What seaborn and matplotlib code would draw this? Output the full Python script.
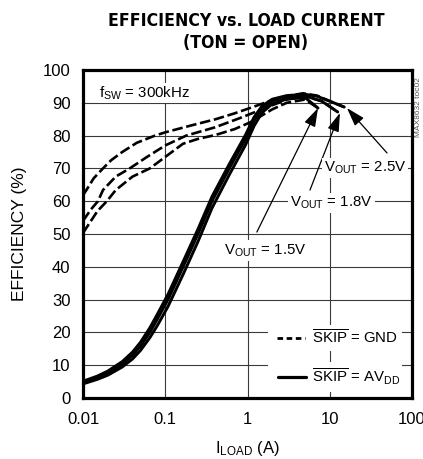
import numpy as np
import pandas as pd
import matplotlib
matplotlib.use("Agg")
import matplotlib.pyplot as plt
import seaborn as sns
from matplotlib import font_manager as fm
from matplotlib.patches import Rectangle
from matplotlib.lines import Line2D

# ---------------- data ----------------
# SKIP = GND (dashed)
gnd25_i = [0.01, 0.011, 0.0135, 0.0175, 0.022, 0.03, 0.045, 0.075, 0.1, 0.2, 0.41, 0.7, 1.07, 2.0, 3.0, 4.7, 7.0, 10.0, 15.0]
gnd25_e = [61.8, 63.4, 67.0, 70.0, 72.5, 75.0, 77.8, 80.0, 81.0, 83.0, 85.0, 86.8, 88.4, 90.8, 92.0, 92.9, 92.2, 90.5, 88.7]
gnd18_i = [0.01, 0.0125, 0.0152, 0.0175, 0.025, 0.037, 0.06, 0.1, 0.18, 0.4, 0.8, 1.5, 3.0, 5.0, 8.0, 12.5]
gnd18_e = [54.0, 57.5, 60.0, 63.4, 67.5, 70.0, 73.5, 77.0, 80.0, 82.5, 85.3, 88.0, 91.0, 92.0, 90.5, 87.2]
gnd15_i = [0.01, 0.0125, 0.015, 0.0195, 0.025, 0.04, 0.065, 0.1, 0.164, 0.25, 0.41, 0.7, 1.07, 2.0, 3.0, 5.0, 7.2]
gnd15_e = [50.3, 54.0, 57.0, 60.0, 63.4, 67.5, 70.0, 73.5, 77.5, 79.0, 80.2, 82.0, 84.0, 88.0, 90.0, 91.0, 88.4]
# SKIP = AVDD (solid)
pwm25_i = [0.01, 0.015, 0.02, 0.03, 0.04, 0.05, 0.065, 0.08, 0.108, 0.165, 0.25, 0.37, 0.6, 0.95, 1.2, 1.5, 2.0, 3.0, 5.0, 7.0, 10.0, 15.0]
pwm25_e = [5.1, 6.7, 8.2, 11.1, 14.0, 17.0, 21.4, 25.5, 31.6, 41.6, 51.5, 61.4, 71.3, 80.3, 85.6, 89.0, 91.1, 92.2, 92.6, 92.0, 90.5, 88.7]
pwm18_i = [0.01, 0.015, 0.02, 0.03, 0.04, 0.05, 0.065, 0.08, 0.108, 0.165, 0.25, 0.37, 0.6, 0.95, 1.2, 1.5, 2.0, 3.0, 5.0, 8.0, 12.5]
pwm18_e = [4.7, 6.2, 7.6, 10.3, 13.0, 15.8, 20.0, 24.0, 30.0, 40.0, 50.0, 60.0, 70.0, 79.0, 84.5, 88.2, 90.5, 91.8, 92.1, 90.5, 87.2]
pwm15_i = [0.01, 0.015, 0.02, 0.03, 0.04, 0.05, 0.065, 0.08, 0.108, 0.165, 0.25, 0.37, 0.6, 0.95, 1.2, 1.5, 2.0, 3.0, 5.0, 7.2]
pwm15_e = [4.3, 5.7, 6.95, 9.45, 11.9, 14.5, 18.4, 22.05, 27.9, 37.7, 47.7, 57.9, 68.05, 77.25, 82.9, 87.0, 89.65, 91.15, 91.6, 88.4]

x_ticks = [0.01, 0.1, 1, 10, 100]
x_ticklabels = ["0.01", "0.1", "1", "10", "100"]
y_ticks = list(range(0, 101, 10))

title = "EFFICIENCY vs. LOAD CURRENT\n(TON = OPEN)"

# ---------------- fonts ----------------
names = {f.name for f in fm.fontManager.ttflist}
narrow = "Liberation Sans Narrow" if "Liberation Sans Narrow" in names else "Liberation Sans"

sns.set_theme(style="white")
plt.rcParams["font.family"] = [narrow, "DejaVu Sans"]
plt.rcParams["text.color"] = "black"
plt.rcParams["axes.labelcolor"] = "black"
plt.rcParams["mathtext.fontset"] = "custom"
plt.rcParams["mathtext.rm"] = narrow
plt.rcParams["mathtext.it"] = narrow
plt.rcParams["mathtext.bf"] = narrow + ":bold"

fig = plt.figure(figsize=(4.23, 4.59), dpi=100)
ax = fig.add_axes([83 / 423, 1 - 398 / 459, 329 / 423, 328 / 459])

series = [
    (gnd25_i, gnd25_e, "gnd"), (gnd18_i, gnd18_e, "gnd"), (gnd15_i, gnd15_e, "gnd"),
    (pwm25_i, pwm25_e, "pwm"), (pwm18_i, pwm18_e, "pwm"), (pwm15_i, pwm15_e, "pwm"),
]
for xi, yi, kind in series:
    df = pd.DataFrame({"I": xi, "E": yi})
    if kind == "gnd":
        sns.lineplot(data=df, x="I", y="E", ax=ax, color="black", lw=1.9,
                     sort=False, estimator=None, linestyle=(0, (4.0, 1.4)), zorder=3)
    else:
        sns.lineplot(data=df, x="I", y="E", ax=ax, color="black", lw=2.1,
                     sort=False, estimator=None, zorder=3)

ax.set_xscale("log")
ax.set_xlim(0.01, 100)
ax.set_ylim(0, 100)
ax.set_xticks(x_ticks)
ax.set_xticklabels(x_ticklabels)
ax.set_yticks(y_ticks)
ax.minorticks_off()
ax.tick_params(axis="both", length=0, labelsize=12, colors="black")
ax.tick_params(axis="y", pad=9)
ax.tick_params(axis="x", pad=10)
ax.grid(True, color="#3a3a3a", lw=0.8, zorder=1)
for s in ax.spines.values():
    s.set_linewidth(2.3)
    s.set_color("black")

ax.set_xlabel(r"I$_{\mathrm{LOAD}}$ (A)", fontsize=12, labelpad=9)
ax.set_ylabel("EFFICIENCY (%)", fontsize=12.5, labelpad=11)
fig.text(246 / 423, 1 - 32 / 459, title, ha="center", va="center",
         fontsize=12.6, fontweight="bold", linespacing=1.3,
         family="DejaVu Sans", fontstretch="condensed")

# fSW label
ax.text(0.0158, 93.0, r"f$_{\mathrm{SW}}$ = 300kHz", fontsize=10.8, va="center", ha="left",
        bbox=dict(fc="white", ec="none", pad=1.0), zorder=4)

# VOUT annotations
box = dict(fc="white", ec="none", pad=1.5)
ap = dict(arrowstyle="-|>,head_length=0.95,head_width=0.3", color="black", lw=0.9,
          shrinkA=0, shrinkB=0)
ax.annotate("", xy=(16.2, 88.4), xytext=(49.7, 74.7), arrowprops=ap, zorder=5)
ax.annotate("", xy=(13.3, 86.9), xytext=(5.75, 63.4), arrowprops=ap, zorder=5)
ax.annotate("", xy=(7.2, 88.4), xytext=(1.30, 50.6), arrowprops=ap, zorder=5)
ax.text(26.8, 70.1, r"V$_{\mathrm{OUT}}$ = 2.5V", fontsize=10.8, ha="center", va="center", bbox=box, zorder=6)
ax.text(10.4, 59.5, r"V$_{\mathrm{OUT}}$ = 1.8V", fontsize=10.8, ha="center", va="center", bbox=box, zorder=6)
ax.text(1.63, 45.0, r"V$_{\mathrm{OUT}}$ = 1.5V", fontsize=10.8, ha="center", va="center", bbox=box, zorder=6)

# legend (custom, two rows with white backgrounds)
def axf(px, py):
    return ((px - 83) / 329, (398 - py) / 328)
for (y0, y1) in [(325, 351), (362, 392)]:
    x0f, y0f = axf(268, y1)
    x1f, y1f = axf(402, y0)
    ax.add_patch(Rectangle((x0f, y0f), x1f - x0f, y1f - y0f, transform=ax.transAxes,
                           fc="white", ec="none", zorder=4))
(lx0, ly1), (lx1, _) = axf(277, 338), axf(305, 338)
ax.add_line(Line2D([lx0, lx1], [ly1, ly1], transform=ax.transAxes, color="black", lw=2.0,
                   linestyle=(0, (2.0, 1.3)), zorder=5))
(lx0, ly2), (lx1, _) = axf(278, 377), axf(306, 377)
ax.add_line(Line2D([lx0, lx1], [ly2, ly2], transform=ax.transAxes, color="black", lw=2.3, zorder=5))
tx, _ = axf(312, 0)
ax.text(tx, ly1, r"$\overline{\mathrm{SKIP}}$ = GND", transform=ax.transAxes, fontsize=10.8,
        va="center", ha="left", zorder=6)
ax.text(tx, ly2, r"$\overline{\mathrm{SKIP}}$ = AV$_{\mathrm{DD}}$", transform=ax.transAxes, fontsize=10.8,
        va="center", ha="left", zorder=6)

# side tag
fig.text(418 / 423, 1 - 107 / 459, "MAX8632 toc02", rotation=90, fontsize=6,
         color="#555555", ha="center", va="center")

fig.savefig("out.png", dpi=100)
